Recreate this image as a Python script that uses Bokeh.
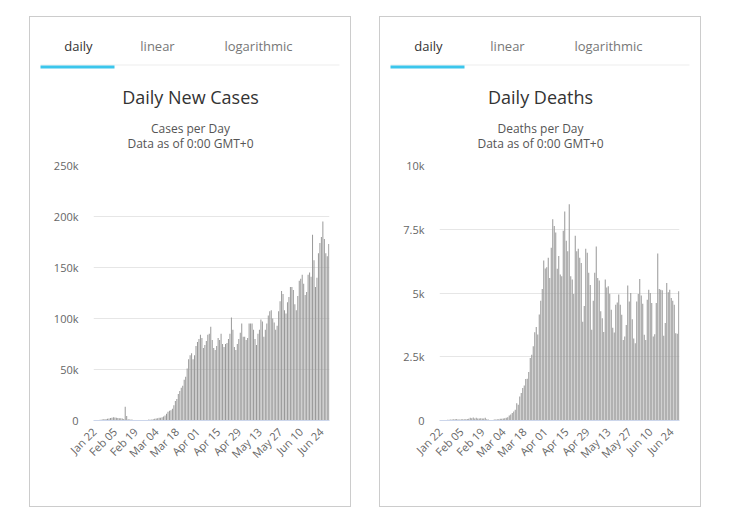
import math
from bokeh.plotting import figure
from bokeh.models import (Range1d, FixedTicker, CustomJSTickFormatter,
                          Spacer, ColumnDataSource)
from bokeh.core.properties import value
from bokeh.layouts import row, column
from bokeh.embed import file_html
from bokeh.resources import INLINE

# ---------------- data ----------------
tick_labels = ["Jan 22", "Feb 05", "Feb 19", "Mar 04", "Mar 18", "Apr 01",
               "Apr 15", "Apr 29", "May 13", "May 27", "Jun 10", "Jun 24"]
tab_names = ["daily", "linear", "logarithmic"]

daily_cases = [
    0, 100, 300, 500, 700, 800, 1500, 1000, 1500, 1800,
    2000, 2500, 2800, 3200, 3000, 2600, 2500, 2300, 2200, 2000,
    1500, 13500, 4500, 1300, 1000, 900, 800, 400, 300, 300,
    200, 300, 200, 300, 300, 400, 500, 900, 800, 1000,
    1300, 1600, 2000, 2300, 2600, 2800, 3200, 4000, 5000, 6500,
    8500, 9500, 10000, 11500, 15000, 19000, 21000, 26000, 29000, 32000,
    34000, 40000, 43000, 51000, 60000, 64000, 66000, 60000, 64000, 73000,
    77000, 80000, 84000, 81000, 71000, 74000, 78000, 84000, 85000, 92000,
    79000, 71000, 69000, 73000, 81000, 79000, 85000, 75000, 72000, 75000,
    76000, 80000, 85000, 101000, 89000, 72000, 69000, 75000, 80000, 86000,
    95000, 82000, 82000, 79000, 81000, 95000, 95000, 95000, 89000, 80000,
    74000, 85000, 89000, 99000, 97000, 82000, 89000, 95000, 103000, 107000,
    108000, 100000, 96000, 89000, 93000, 107000, 117000, 127000, 124000, 108000,
    105000, 116000, 121000, 131000, 131000, 128000, 114000, 108000, 122000, 137000,
    139000, 143000, 134000, 123000, 126000, 143000, 145000, 141000, 182000, 157000,
    131000, 140000, 164000, 174000, 180000, 195000, 178000, 164000, 161000, 173000,
]

daily_deaths = [
    0, 8, 16, 15, 24, 26, 26, 38, 43, 46,
    45, 57, 40, 40, 45, 45, 50, 50, 55, 65,
    105, 90, 118, 80, 110, 80, 80, 85, 80, 80,
    105, 50, 40, 5, 5, 5, 40, 40, 45, 50,
    65, 70, 80, 90, 110, 130, 200, 240, 290, 355,
    420, 680, 615, 945, 1075, 1270, 1375, 1625, 1640, 1900,
    2450, 2580, 2910, 3460, 3670, 3370, 4160, 4700, 5160, 6275,
    5960, 6010, 6380, 5590, 6770, 7890, 7630, 7370, 5950, 6450,
    5730, 5660, 7440, 8200, 7050, 6640, 8480, 5660, 5530, 4960,
    7250, 6640, 6740, 6380, 6180, 3870, 4490, 6740, 6580, 5790,
    5310, 3560, 4700, 5790, 6820, 5590, 5490, 4280, 4010, 3470,
    5530, 5220, 5260, 4970, 4340, 3640, 3450, 4540, 4630, 4940,
    4540, 4150, 3160, 3290, 3750, 5290, 4670, 5000, 3970, 3220,
    3030, 4670, 4960, 5550, 4900, 4580, 3360, 3160, 4740, 5130,
    5000, 4610, 3290, 3380, 4610, 6550, 5160, 5130, 5110, 3320,
    3820, 5390, 5030, 5130, 4800, 4700, 4540, 3420, 3400, 5070,
]

cases_ticks = [0, 50000, 100000, 150000, 200000, 250000]
deaths_ticks = [0, 2500, 5000, 7500, 10000]

FONT = "Open Sans"
INNER_W = 320
HEAD_H = 138
CHART_H = 351


def header(title, subtitle):
    h = figure(width=INNER_W, height=HEAD_H, output_backend="svg",
               toolbar_location=None,
               x_range=Range1d(0, INNER_W), y_range=Range1d(HEAD_H, 0),
               min_border=0, min_border_left=0, min_border_right=0,
               min_border_top=0, min_border_bottom=0)
    h.frame_align = False
    h.axis.visible = False
    h.grid.visible = False
    h.outline_line_color = None
    h.background_fill_color = "white"
    h.border_fill_color = "white"
    # tab divider + active underline
    h.quad(left=[10], right=[309], top=[47], bottom=[48],
           fill_color="#eeeeee", line_color=None)
    h.quad(left=[10], right=[84], top=[48], bottom=[51],
           fill_color="#3cc6ec", line_color=None)
    h.text(x=[48, 127, 228], y=[28.5, 28.5, 28.5], text=tab_names,
           text_font=value(FONT), text_font_size="13px",
           text_color=["#333333", "#777777", "#777777"],
           text_align="center", text_baseline="middle")
    h.text(x=[160], y=[79.5], text=[title], text_font=value(FONT),
           text_font_size="18px", text_color="#333333",
           text_align="center", text_baseline="middle")
    h.text(x=[160, 160], y=[111, 126],
           text=[subtitle, "Data as of 0:00 GMT+0"],
           text_font=value(FONT), text_font_size="12px",
           text_color="#555555", text_align="center",
           text_baseline="middle")
    return h


def chart(values, yticks, left_border):
    n = len(values)
    src = ColumnDataSource(dict(x=list(range(n)), top=values))
    p = figure(width=INNER_W, height=CHART_H, output_backend="svg",
               toolbar_location=None,
               x_range=Range1d(-0.5, n - 0.5),
               y_range=Range1d(0, yticks[-1]),
               min_border_left=left_border, min_border_right=21,
               min_border_top=10, min_border_bottom=86)
    p.frame_align = False
    p.vbar(x="x", top="top", width=0.68, source=src,
           fill_color="#999999", line_color=None)

    p.outline_line_color = None
    p.background_fill_color = "white"
    p.border_fill_color = "white"
    p.xgrid.grid_line_color = None
    p.ygrid.grid_line_color = "#e6e6e6"
    p.ygrid.ticker = FixedTicker(ticks=yticks)

    ya = p.yaxis[0]
    ya.ticker = FixedTicker(ticks=yticks)
    ya.formatter = CustomJSTickFormatter(
        code="return tick == 0 ? '0' : (tick/1000) + 'k';")
    ya.axis_line_color = None
    ya.major_tick_line_color = None
    ya.minor_tick_line_color = None
    ya.major_tick_out = 0
    ya.major_tick_in = 0
    ya.major_label_standoff = 15
    ya.major_label_text_font = FONT
    ya.major_label_text_font_size = "11px"
    ya.major_label_text_color = "#666666"

    xa = p.xaxis[0]
    xpos = [14 * i for i in range(len(tick_labels))]
    xa.ticker = FixedTicker(ticks=xpos)
    xa.major_label_overrides = {t: lab for t, lab in zip(xpos, tick_labels)}
    xa.major_label_orientation = math.pi / 4
    xa.axis_line_color = "#ccd6eb"
    xa.major_tick_line_color = None
    xa.minor_tick_line_color = None
    xa.major_tick_out = 0
    xa.major_tick_in = 0
    xa.major_label_standoff = 9
    xa.major_label_text_font = FONT
    xa.major_label_text_font_size = "11px"
    xa.major_label_text_color = "#666666"
    return p


def card(values, yticks, title, subtitle, left_border):
    return column(header(title, subtitle), chart(values, yticks, left_border),
                  spacing=0,
                  styles={"border": "1px solid #cccccc",
                          "background-color": "white"})


c1 = card(daily_cases, cases_ticks, "Daily New Cases", "Cases per Day", 63)
c2 = card(daily_deaths, deaths_ticks, "Daily Deaths", "Deaths per Day", 59)

layout = column(Spacer(height=16),
                row(Spacer(width=29), c1, Spacer(width=28), c2, spacing=0),
                spacing=0)

open("out.html", "w").write(file_html(layout, INLINE))
